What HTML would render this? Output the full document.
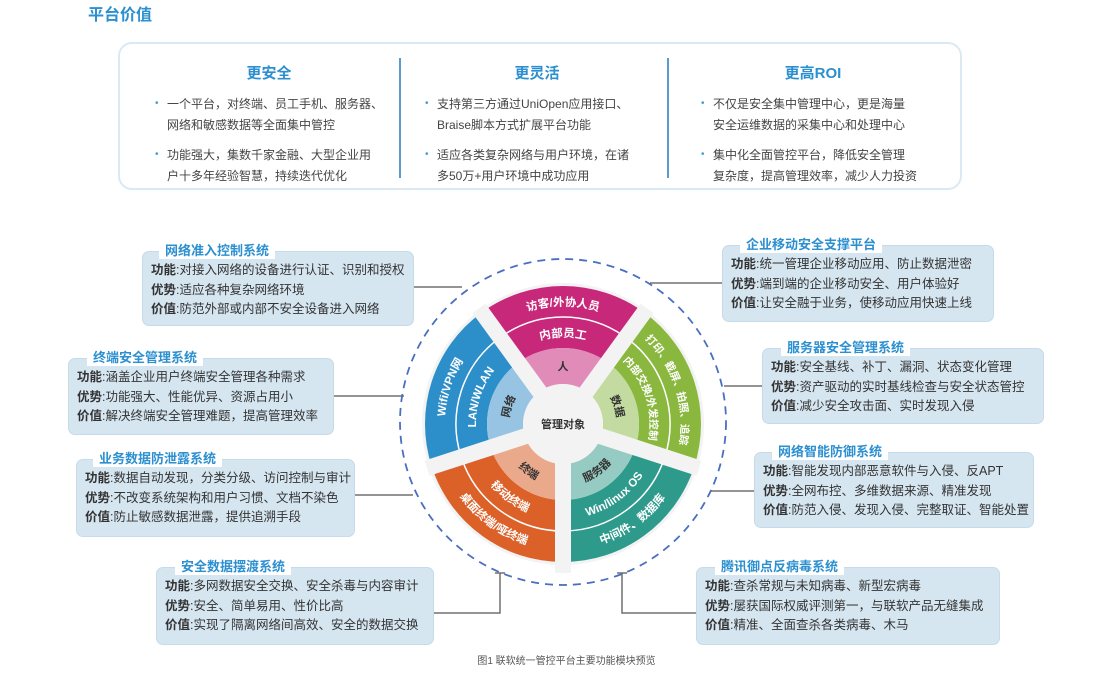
<!DOCTYPE html>
<html><head><meta charset="utf-8">
<style>
*{margin:0;padding:0;box-sizing:border-box}
body{width:1111px;height:676px;background:#fff;position:relative;overflow:hidden;font-family:"Liberation Sans","Noto Sans CJK SC",sans-serif;color:#333}
.abs{position:absolute;white-space:nowrap}
.h1{left:88px;top:1px;font-size:16px;font-weight:bold;color:#2b8fd0}
.card{position:absolute;left:118px;top:42px;width:844px;height:148px;border:2.5px solid #dbe9f4;border-radius:14px}
.div{position:absolute;top:58px;width:1.5px;height:120px;background:#5b9bd0}
.hd{position:absolute;top:62px;font-size:15px;font-weight:bold;color:#2b8fd0;text-align:center;width:160px}
.bl{position:absolute;font-size:12px;line-height:20.5px;color:#444;white-space:nowrap}
.bl i{position:absolute;left:-12px;top:0;font-style:normal;color:#4a9ad4;font-size:10px}
.box{position:absolute;background:#d6e6f1;border-radius:7px;border:1px solid #c5dbea}
.box .t{position:absolute;top:-9px;background:#fff;padding:0 6px;font-size:13px;font-weight:bold;color:#2b8fd0;line-height:16px;white-space:nowrap}
.box .c{position:absolute;left:8px;top:9px;font-size:12.5px;line-height:19.5px;color:#333;white-space:nowrap}
.box b{color:#333}
.cap{left:0;width:1133px;text-align:center;top:652px;font-size:10px;color:#555}
</style></head><body>
<div class="abs h1">平台价值</div>
<div class="card"></div>
<div class="div" style="left:399px"></div>
<div class="div" style="left:667px"></div>
<div class="hd" style="left:189px">更安全</div>
<div class="hd" style="left:457px">更灵活</div>
<div class="hd" style="left:733px">更高ROI</div>
<div class="bl" style="left:167px;top:94px"><i>•</i>一个平台，对终端、员工手机、服务器、<br>网络和敏感数据等全面集中管控</div>
<div class="bl" style="left:167px;top:145px"><i>•</i>功能强大，集数千家金融、大型企业用<br>户十多年经验智慧，持续迭代优化</div>
<div class="bl" style="left:437px;top:94px"><i>•</i>支持第三方通过UniOpen应用接口、<br>Braise脚本方式扩展平台功能</div>
<div class="bl" style="left:437px;top:145px"><i>•</i>适应各类复杂网络与用户环境，在诸<br>多50万+用户环境中成功应用</div>
<div class="bl" style="left:713px;top:94px"><i>•</i>不仅是安全集中管理中心，更是海量<br>安全运维数据的采集中心和处理中心</div>
<div class="bl" style="left:713px;top:145px"><i>•</i>集中化全面管控平台，降低安全管理<br>复杂度，提高管理效率，减少人力投资</div>

<svg id="g" width="1111" height="676" style="position:absolute;left:0;top:0"></svg>

<div class="box" style="left:142px;top:251px;width:272px;height:75px"><span class="t" style="left:16px">网络准入控制系统</span><div class="c"><b>功能</b>:对接入网络的设备进行认证、识别和授权<br><b>优势</b>:适应各种复杂网络环境<br><b>价值</b>:防范外部或内部不安全设备进入网络</div></div>
<div class="box" style="left:68px;top:358px;width:266px;height:77px"><span class="t" style="left:18px">终端安全管理系统</span><div class="c"><b>功能</b>:涵盖企业用户终端安全管理各种需求<br><b>优势</b>:功能强大、性能优异、资源占用小<br><b>价值</b>:解决终端安全管理难题，提高管理效率</div></div>
<div class="box" style="left:76px;top:459px;width:279px;height:78px"><span class="t" style="left:16px">业务数据防泄露系统</span><div class="c"><b>功能</b>:数据自动发现，分类分级、访问控制与审计<br><b>优势</b>:不改变系统架构和用户习惯、文档不染色<br><b>价值</b>:防止敏感数据泄露，提供追溯手段</div></div>
<div class="box" style="left:156px;top:567px;width:278px;height:78px"><span class="t" style="left:18px">安全数据摆渡系统</span><div class="c"><b>功能</b>:多网数据安全交换、安全杀毒与内容审计<br><b>优势</b>:安全、简单易用、性价比高<br><b>价值</b>:实现了隔离网络间高效、安全的数据交换</div></div>
<div class="box" style="left:722px;top:245px;width:272px;height:77px"><span class="t" style="left:17px">企业移动安全支撑平台</span><div class="c"><b>功能</b>:统一管理企业移动应用、防止数据泄密<br><b>优势</b>:端到端的企业移动安全、用户体验好<br><b>价值</b>:让安全融于业务，使移动应用快速上线</div></div>
<div class="box" style="left:762px;top:348px;width:282px;height:76px"><span class="t" style="left:18px">服务器安全管理系统</span><div class="c"><b>功能</b>:安全基线、补丁、漏洞、状态变化管理<br><b>优势</b>:资产驱动的实时基线检查与安全状态管控<br><b>价值</b>:减少安全攻击面、实时发现入侵</div></div>
<div class="box" style="left:754px;top:452px;width:280px;height:76px"><span class="t" style="left:17px">网络智能防御系统</span><div class="c"><b>功能</b>:智能发现内部恶意软件与入侵、反APT<br><b>优势</b>:全网布控、多维数据来源、精准发现<br><b>价值</b>:防范入侵、发现入侵、完整取证、智能处置</div></div>
<div class="box" style="left:696px;top:567px;width:304px;height:78px"><span class="t" style="left:18px">腾讯御点反病毒系统</span><div class="c"><b>功能</b>:查杀常规与未知病毒、新型宏病毒<br><b>优势</b>:屡获国际权威评测第一，与联软产品无缝集成<br><b>价值</b>:精准、全面查杀各类病毒、木马</div></div>
<div class="abs cap">图1 联软统一管控平台主要功能模块预览</div>

<script>
var g=document.getElementById('g'),cx=563,cy=424,h='';
function P(r,a){a=a*Math.PI/180;return [(cx+r*Math.cos(a)).toFixed(2),(cy+r*Math.sin(a)).toFixed(2)];}
function ann(r1,r2,a1,a2,f){var p1=P(r2,a1),p2=P(r2,a2),p3=P(r1,a2),p4=P(r1,a1);
return '<path fill="'+f+'" d="M'+p1+' A'+r2+' '+r2+' 0 0 1 '+p2+' L'+p3+' A'+r1+' '+r1+' 0 0 0 '+p4+'Z"/>';}
var id=0;
function txt(r,a1,a2,cw,s,col,fs){id++;var d;
if(cw){r=r-4;var p1=P(r,a1),p2=P(r,a2);d='M'+p1+' A'+r+' '+r+' 0 0 1 '+p2;}
else{r=r+4;var p1=P(r,a2),p2=P(r,a1);d='M'+p1+' A'+r+' '+r+' 0 0 0 '+p2;}
return '<path id="tp'+id+'" d="'+d+'" fill="none"/><text font-size="'+fs+'" font-weight="bold" fill="'+col+'" text-anchor="middle"><textPath href="#tp'+id+'" startOffset="50%">'+s+'</textPath></text>';}
var L='stroke="#707070" stroke-width="1.5" fill="none"';
h+='<path '+L+' d="M414 287H462M334 396H404M355 495H413M434 613H500V573M495 573H505M762 386H724M754 491H710M722 283H650M696 613H622V573M617 573H627"/>';
h+='<circle cx="'+cx+'" cy="'+(cy-2)+'" r="163" fill="none" stroke="#4a6fc0" stroke-width="1.8" stroke-dasharray="8 6"/>';
h+='<circle cx="'+cx+'" cy="'+cy+'" r="141" fill="#f3f3f3"/>';
var S=[[-126,-54,'#c8287a','#e08bb8',1,['访客/外协人员','内部员工','人'],11.5],
[-54,18,'#8ab83f','#c3dba0',1,['打印、截屏、拍照、追踪','内部交换/外发控制','数据'],10.5],
[18,90,'#2e9a8c','#96cbc3',0,['中间件、数据库','Win/linux OS','服务器'],11.5],
[90,162,'#dc6129','#eba98b',0,['桌面终端/哑终端','移动终端','终端'],11.5],
[162,234,'#2d8fc9','#96c4e2',1,['Wifi/VPN网','LAN/WLAN','网络'],11.5]];
var T='';
S.forEach(function(s){h+=ann(76,138,s[0],s[1],s[2])+ann(40,76,s[0],s[1],s[3]);
h+='<path d="M'+P(107,s[0]+1)+' A107 107 0 0 1 '+P(107,s[1]-1)+'" stroke="#fff" stroke-width="1.5" fill="none"/>';
T+=txt(122,s[0],s[1],s[4],s[5][0],'#fff',s[6])+txt(91,s[0],s[1],s[4],s[5][1],'#fff',s[6])+txt(58,s[0],s[1],s[4],s[5][2],'#333',11);});
[-126,-54,18,90,162].forEach(function(a){var len=a==90?149:143;
h+='<rect x="0" y="-8" width="'+len+'" height="16" fill="#f3f3f3" transform="translate('+cx+' '+cy+') rotate('+a+')"/>';});
h+='<circle cx="'+cx+'" cy="'+cy+'" r="40" fill="#f3f3f3"/>';
h+=T+'<text x="'+cx+'" y="'+(cy+4)+'" font-size="11" font-weight="bold" fill="#333" text-anchor="middle">管理对象</text>';
g.innerHTML=h;
</script>
</body></html>
